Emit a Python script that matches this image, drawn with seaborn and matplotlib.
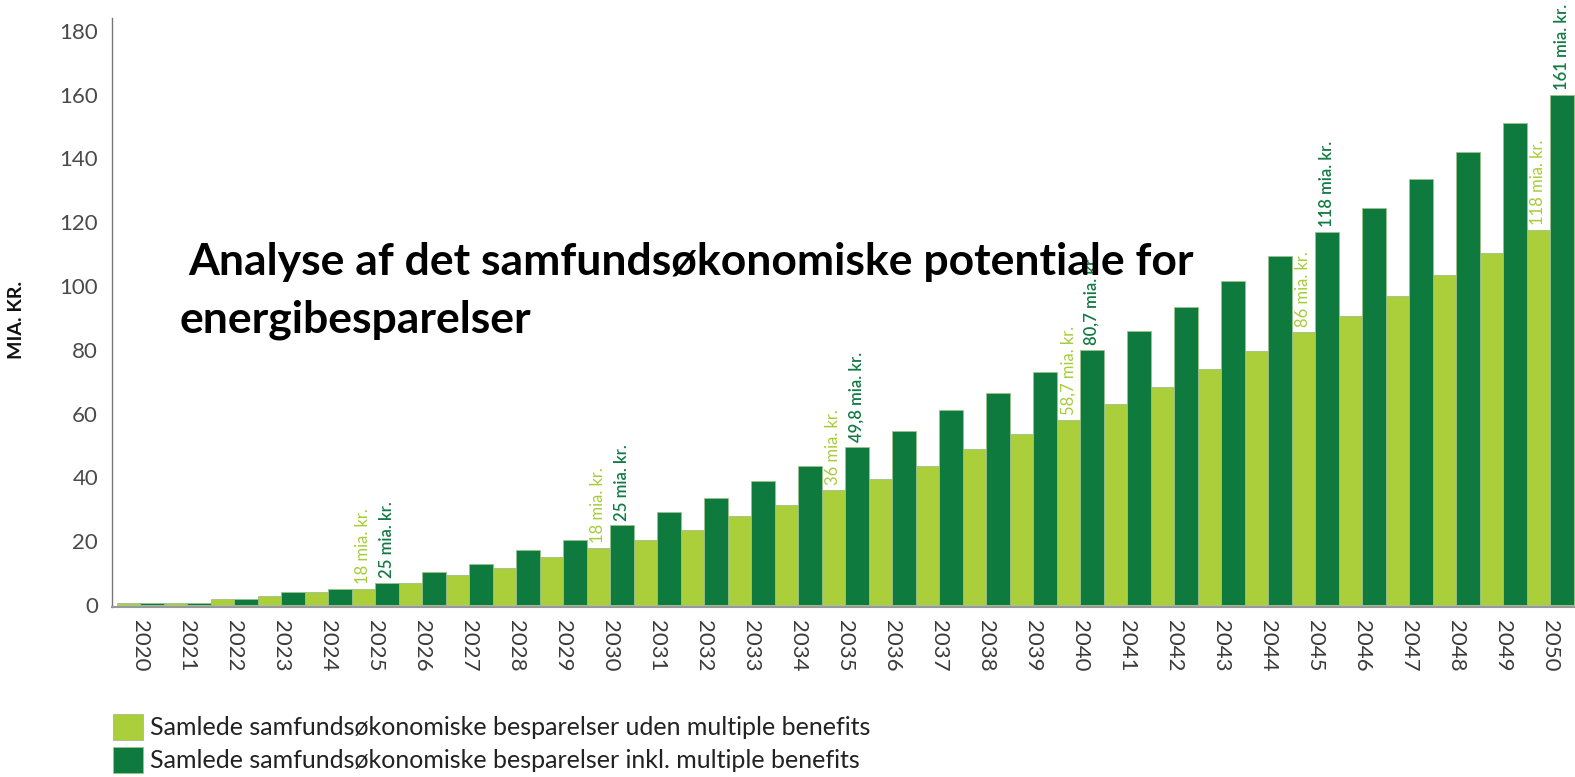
import matplotlib
matplotlib.use("Agg")
import matplotlib.pyplot as plt
import seaborn as sns
import pandas as pd

years = [str(y) for y in range(2020, 2051)]
uden = [0.5, 0.5, 1.8, 2.8, 4.0, 5.0, 7.0, 9.5, 11.5, 15.0, 18.0, 20.5, 23.5, 28.0, 31.5, 36.0,
        39.5, 43.5, 49.0, 53.5, 58.0, 63.0, 68.5, 74.0, 79.5, 85.5, 90.5, 97.0, 103.5, 110.5, 117.5]
inkl = [0.5, 0.5, 1.8, 4.0, 5.0, 7.0, 10.5, 12.8, 17.2, 20.5, 25.0, 29.2, 33.5, 39.0, 43.5, 49.5,
        54.5, 61.0, 66.5, 73.0, 80.0, 86.0, 93.5, 101.5, 109.5, 117.0, 124.5, 133.5, 142.0, 151.0, 160.0]
s_uden = "Samlede samfundsøkonomiske besparelser uden multiple benefits"
s_inkl = "Samlede samfundsøkonomiske besparelser inkl. multiple benefits"

# value labels as printed in the original (year -> text)
lab_uden = {"2025": "18 mia. kr.", "2030": "18 mia. kr.", "2035": "36 mia. kr.",
            "2040": "58,7 mia. kr.", "2045": "86 mia. kr.", "2050": "118 mia. kr."}
lab_inkl = {"2025": "25 mia. kr.", "2030": "25 mia. kr.", "2035": "49,8 mia. kr.",
            "2040": "80,7 mia. kr.", "2045": "118 mia. kr.", "2050": "161 mia. kr."}

light = "#abcf3a"
dark = "#0e7a3e"

df = pd.DataFrame({
    "year": years * 2,
    "value": uden + inkl,
    "serie": [s_uden] * len(years) + [s_inkl] * len(years),
})

sns.set_style("white")
plt.rcParams["font.family"] = ["Lato", "DejaVu Sans"]

fig = plt.figure(figsize=(15.75, 7.77), dpi=100)
ax = fig.add_axes([112 / 1575, 1 - 607 / 777, 1 - 112 / 1575, (607 - 18) / 777])

sns.barplot(data=df, x="year", y="value", hue="serie", hue_order=[s_uden, s_inkl],
            palette=[light, dark], width=1.0, edgecolor="#9cc28a", linewidth=0.6,
            saturation=1, ax=ax)

ax.set_xlim(-0.6, 30.53)
ax.set_ylim(-0.6, 184)
ax.set_yticks(range(0, 181, 20))
ax.tick_params(axis="y", length=0, labelsize=16, labelcolor="#4a4a4a", pad=10)
ax.tick_params(axis="x", length=0, labelsize=16, labelcolor="#3a3a3a", pad=9)
for t in ax.get_xticklabels():
    t.set_rotation(270)
    t.set_va("top")
ax.set_xlabel("")
ax.set_ylabel("MIA. KR.", fontsize=14, fontweight="bold", color="#111111")
ax.yaxis.set_label_coords(-0.0595, 0.487)

for side in ["top", "right"]:
    ax.spines[side].set_visible(False)
ax.spines["left"].set_color("#777777")
ax.spines["bottom"].set_color("#999999")
ax.spines["left"].set_linewidth(1.0)
ax.spines["bottom"].set_linewidth(1.5)

for cont, labs, col, wt in [(ax.containers[0], lab_uden, "#a6cc38", "normal"),
                            (ax.containers[1], lab_inkl, "#137a45", "semibold")]:
    for yr, bar in zip(years, cont):
        if yr in labs:
            ax.text(bar.get_x() + bar.get_width() / 2, bar.get_height() + 1.5, labs[yr],
                    rotation=90, ha="center", va="bottom", fontsize=12, color=col,
                    fontweight=wt)

fig.text(188 / 1575, 1 - 262 / 777, "Analyse af det samfundsøkonomiske potentiale for",
         fontsize=32, fontweight="bold", color="black", ha="left", va="center")
fig.text(180 / 1575, 1 - 320 / 777, "energibesparelser",
         fontsize=32, fontweight="bold", color="black", ha="left", va="center")

sns.move_legend(ax, "upper left", bbox_to_anchor=(103 / 1575, 1 - 704 / 777),
                bbox_transform=fig.transFigure, title=None, frameon=False,
                fontsize=18, handlelength=1.2, handleheight=1.2, handletextpad=0.3,
                labelspacing=0.3, borderaxespad=0)
for t in ax.get_legend().get_texts():
    t.set_color("#222222")

fig.savefig("out.png", dpi=100)
